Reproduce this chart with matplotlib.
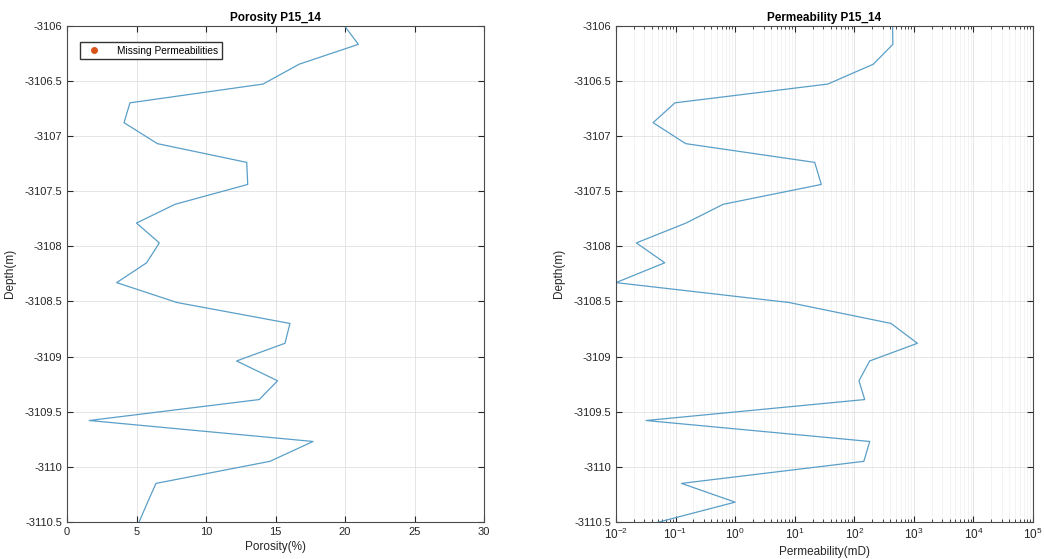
"""Porosity and permeability logs for well P15_14."""
import matplotlib
matplotlib.use('Agg')
import matplotlib.pyplot as plt
from matplotlib.lines import Line2D

# -- DATA
depth = [-3106.00, -3106.17, -3106.35, -3106.53, -3106.70, -3106.88, -3107.07,
         -3107.24, -3107.44, -3107.62, -3107.79, -3107.97, -3108.15, -3108.33,
         -3108.51, -3108.70, -3108.88, -3109.04, -3109.22, -3109.39, -3109.58,
         -3109.77, -3109.95, -3110.15, -3110.32, -3110.51]
porosity = [19.95, 20.96, 16.7, 14.1, 4.53, 4.1, 6.5, 12.93, 13.0, 7.77, 5.0,
            6.64, 5.73, 3.57, 7.9, 16.04, 15.68, 12.2, 15.15, 13.83, 1.6, 17.7,
            14.6, 6.4, 5.8, 5.15]
permeability = [440, 445, 209, 36, 0.098, 0.042, 0.148, 21.7, 28, 0.63, 0.15,
                0.022, 0.066, 0.01, 8, 415, 1150, 182, 120, 150, 0.032, 182,
                145, 0.126, 1.0, 0.045]
por_ticks = [0, 5, 10, 15, 20, 25, 30]
depth_ticks = [-3110.5, -3110, -3109.5, -3109, -3108.5, -3108, -3107.5,
               -3107, -3106.5, -3106]
perm_ticks = [1e-2, 1e-1, 1e0, 1e1, 1e2, 1e3, 1e4, 1e5]
perm_labels = ['$10^{-2}$', '$10^{-1}$', '$10^{0}$', '$10^{1}$', '$10^{2}$',
               '$10^{3}$', '$10^{4}$', '$10^{5}$']

plt.rcParams['font.family'] = ['Liberation Sans', 'DejaVu Sans']
plt.rcParams['axes.unicode_minus'] = False
plt.rcParams['mathtext.fontset'] = 'custom'
plt.rcParams['mathtext.rm'] = 'Liberation Sans'
plt.rcParams['mathtext.default'] = 'rm'
LINE = '#5a9fc8'
DARK = '#262626'


def style_axes(ax):
    ax.set_ylim(-3110.5, -3106)
    ax.set_yticks(depth_ticks)
    ax.set_yticklabels(['%g' % d for d in depth_ticks])
    ax.tick_params(which='both', direction='in', top=True, right=True,
                   labelsize=8, colors=DARK, length=4)
    ax.tick_params(which='minor', length=2.5)
    ax.grid(True, which='major', color='#e0e0e0', linewidth=0.6)
    for s in ax.spines.values():
        s.set_color('#4a4a4a')
        s.set_linewidth(0.8)
    ax.set_ylabel('Depth(m)', fontsize=8.5, color=DARK, labelpad=6)


fig = plt.figure(figsize=(10.44, 5.59), dpi=100)

# -- POROSITY
ax1 = fig.add_axes([0.0642, 0.0662, 0.3994, 0.888])
ax1.plot(porosity, depth, color=LINE, linewidth=0.9)
ax1.set_xlim(0, 30)
ax1.set_xticks(por_ticks)
style_axes(ax1)
ax1.set_xlabel('Porosity(%)', fontsize=8.5, color=DARK, labelpad=3)
ax1.set_title('Porosity P15_14', fontsize=8.5, fontweight='bold', pad=3)
handle = Line2D([], [], linestyle='none', marker='o', markersize=4,
                color='#D95319', label='Missing Permeabilities')
ax1.legend(handles=[handle], loc='upper left', fontsize=7.3, frameon=True,
           fancybox=False, edgecolor='#333333', framealpha=1,
           bbox_to_anchor=(0.02, 0.977), handletextpad=1.3, borderpad=0.35)

# -- PERMEABILITY
ax2 = fig.add_axes([0.590, 0.0662, 0.3994, 0.888])
ax2.plot(permeability, depth, color=LINE, linewidth=0.9)
ax2.set_xscale('log')
ax2.set_xlim(1e-2, 1e5)
ax2.set_xticks(perm_ticks)
ax2.set_xticklabels(perm_labels)
style_axes(ax2)
ax2.tick_params(axis='x', labelsize=8.5)
ax2.grid(True, which='minor', axis='x', color='#eeeeee', linewidth=0.5)
ax2.set_xlabel('Permeability(mD)', fontsize=8.5, color=DARK, labelpad=3)
ax2.set_title('Permeability P15_14', fontsize=8.5, fontweight='bold', pad=3)

fig.savefig('out.png', dpi=100)
